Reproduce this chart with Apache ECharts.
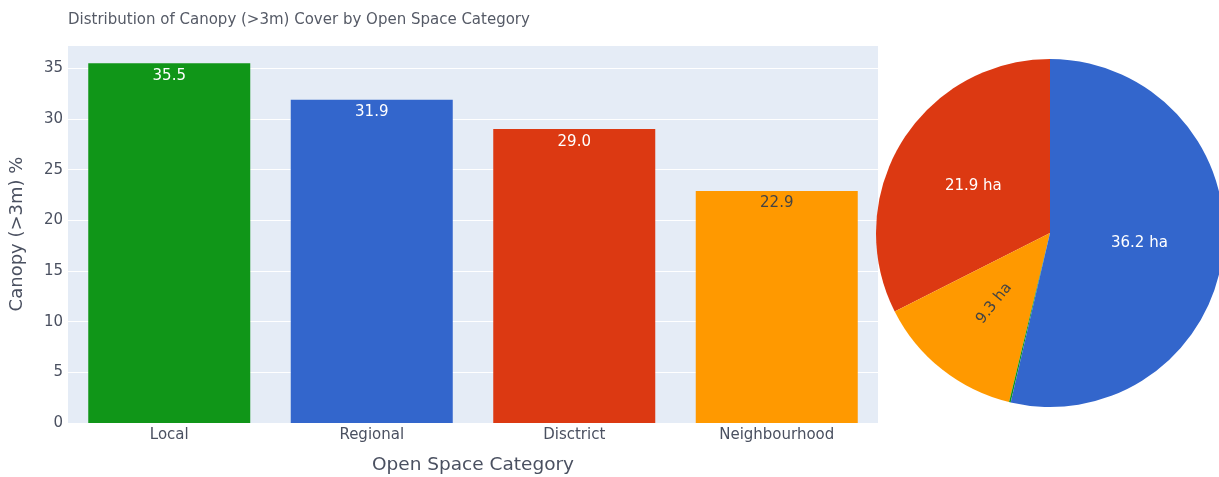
<!DOCTYPE html>
<html>
<head>
<meta charset="utf-8">
<script src="https://cdn.jsdelivr.net/npm/echarts@6/dist/echarts.min.js"></script>
<style>
  html, body { margin: 0; padding: 0; background: #ffffff; }
  #chart { width: 1219px; height: 477px; }
</style>
</head>
<body>
<div id="chart"></div>
<script>
// Canopy share per open space category (bar chart)
const categories = ['Local', 'Regional', 'Disctrict', 'Neighbourhood'];
const canopyPct = [35.5, 31.9, 29.0, 22.9];
const barColors = ['#109618', '#3366CC', '#DC3912', '#FF9900'];
const barLabelColors = ['#ffffff', '#ffffff', '#ffffff', '#444444'];

// Y axis range and tick step
const yMin = 0;
const yMax = 37.3;
const yStep = 5;

// Canopy area per category (pie chart), drawn counter-clockwise from 12 o'clock
const pieNames = ['Disctrict', 'Neighbourhood', 'Local', 'Regional'];
const pieAreaHa = [21.9, 9.3, 0.1, 36.2];
const pieColors = ['#DC3912', '#FF9900', '#109618', '#3366CC'];
const pieLabelColors = ['#ffffff', '#444444', '#ffffff', '#ffffff'];
const pieLabelShown = [true, true, false, true];
const pieLabelRotate = [0, 'radial', 0, 0];

const FONT = 'DejaVu Sans';
const TEXT = '#4a5060';

const chart = echarts.init(document.getElementById('chart'), null, { renderer: 'canvas' });

chart.setOption({
  animation: false,
  backgroundColor: '#ffffff',
  textStyle: { fontFamily: FONT },
  title: {
    text: 'Distribution of Canopy (>3m) Cover by Open Space Category',
    left: 63,
    top: 8,
    textStyle: { fontFamily: FONT, fontSize: 15, fontWeight: 'normal', color: '#555a66' }
  },
  grid: {
    left: 68, right: 341, top: 45, bottom: 54,
    outerBoundsMode: 'none',
    containLabel: false,
    show: true,
    backgroundColor: '#E5ECF6',
    borderWidth: 0
  },
  xAxis: {
    type: 'category',
    data: categories,
    name: 'Open Space Category',
    nameLocation: 'middle',
    nameGap: 33,
    nameTextStyle: { fontFamily: FONT, fontSize: 18.5, color: TEXT },
    axisLine: { show: false },
    axisTick: { show: false },
    axisLabel: { fontFamily: FONT, fontSize: 15, color: TEXT, margin: 5 },
    splitLine: { show: false }
  },
  yAxis: {
    type: 'value',
    min: yMin,
    max: yMax,
    interval: yStep,
    name: 'Canopy (>3m) %',
    nameLocation: 'middle',
    nameGap: 42,
    nameTextStyle: { fontFamily: FONT, fontSize: 18, color: TEXT },
    axisLine: { show: false },
    axisTick: { show: false },
    axisLabel: {
      fontFamily: FONT, fontSize: 15, color: TEXT, margin: 5,
      formatter: v => (Math.abs(v % yStep) < 1e-9 ? String(v) : '')
    },
    splitLine: { show: true, lineStyle: { color: '#ffffff', width: 1 } }
  },
  series: [
    {
      type: 'bar',
      barCategoryGap: '20%',
      data: canopyPct.map((v, i) => ({
        value: v,
        itemStyle: { color: barColors[i] },
        label: { color: barLabelColors[i] }
      })),
      label: {
        show: true,
        position: 'insideTop',
        distance: 5,
        fontFamily: FONT,
        fontSize: 15,
        formatter: p => p.value.toFixed(1)
      }
    },
    {
      type: 'pie',
      center: [1050, 233],
      radius: [0, 174],
      startAngle: 90,
      clockwise: false,
      avoidLabelOverlap: false,
      itemStyle: { borderWidth: 0 },
      emphasis: { disabled: true },
      labelLine: { show: false },
      label: {
        show: true,
        position: 'inside',
        fontFamily: FONT,
        fontSize: 15,
        formatter: p => p.value.toFixed(1) + ' ha'
      },
      data: pieAreaHa.map((v, i) => ({
        name: pieNames[i],
        value: v,
        itemStyle: { color: pieColors[i] },
        label: { show: pieLabelShown[i], color: pieLabelColors[i], rotate: pieLabelRotate[i] }
      }))
    }
  ]
});
</script>
</body>
</html>
